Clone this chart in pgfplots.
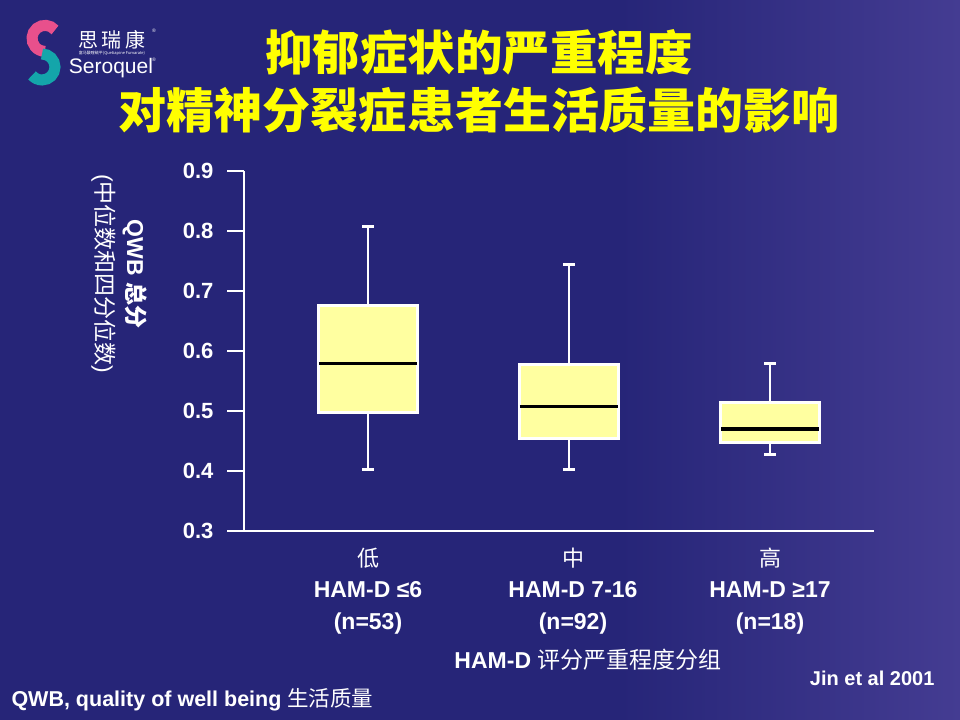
\documentclass[border=0pt]{standalone}
\usepackage{fontspec}
\setmainfont{Liberation Sans}
\newfontfamily\cjk{Noto Sans CJK SC}
\usepackage{pgfplots}
\pgfplotsset{compat=1.18}
\usepgfplotslibrary{statistics}
\definecolor{bgL}{RGB}{38,37,120}
\definecolor{bgR}{RGB}{68,60,146}
\definecolor{boxy}{RGB}{255,255,160}
\definecolor{ttl}{RGB}{255,255,0}
\definecolor{pinkS}{RGB}{232,80,140}
\definecolor{tealS}{RGB}{20,165,170}
\newcommand\fs[1]{\fontsize{#1bp}{#1bp}\selectfont}
\begin{document}
\begin{tikzpicture}[x=1bp,y=1bp]
\fill[bgL] (0,0) rectangle (960,720);
\shade[left color=bgL, right color=bgR] (620,0) rectangle (960,720);
\useasboundingbox (0,0) rectangle (960,720);
% logo
\draw[pinkS, line width=11bp] (55,690) arc[start angle=40, end angle=270, radius=13];
\draw[tealS, line width=11bp] (42,666) arc[start angle=90, end angle=-140, radius=13];
\node[white, font=\cjk\fs{20}] at (112,680) {思\,瑞\,康};
\node[white, font=\fs{5}] at (154,689) {®};
\node[white, font=\cjk\fs{4}] at (112,667) {富马酸喹硫平(Quetiapine Fumarate)};
\node[white, font=\fs{21}] at (111,652) {Seroquel};
\node[white, font=\fs{5}] at (154,660) {®};
% title
\node[text=ttl, font=\cjk\bfseries\fs{47.5}] at (479,668) {抑郁症状的严重程度};
\node[text=ttl, font=\cjk\bfseries\fs{48}] at (479,610) {对精神分裂症患者生活质量的影响};
% y label
\node[white, rotate=-90, align=center, font=\fs{23}] at (119,446)
  {{\bfseries QWB {\cjk\bfseries 总分}}\\[6bp]{\fs{23}(\cjk 中位数和四分位数\rmfamily)}};
\begin{axis}[
  at={(244bp,189bp)}, anchor=south west,
  scale only axis, width=630bp, height=360bp,
  xmin=0.383, xmax=3.517, ymin=0.3, ymax=0.9,
  axis x line=bottom, axis y line=left,
  axis line style={-, white, line width=2.4bp},
  xtick=\empty,
  ytick={0.3,0.4,0.5,0.6,0.7,0.8,0.9},
  major tick length=17bp, tick align=outside,
  tick style={white, line width=2.4bp},
  yticklabel style={text=white, font=\bfseries\fs{22}, xshift=-10bp},
  /pgf/number format/.cd, fixed, fixed zerofill, precision=1, assume math mode=true,
  /pgfplots/.cd,
  boxplot/draw direction=y,
  boxplot/every median/.style={draw=black, line width=3.2bp},
  boxplot/every whisker/.style={draw=white, line width=2.8bp},
]
\addplot[draw=white, line width=3bp, fill=boxy, boxplot prepared={draw position=1,
  lower whisker=0.402, lower quartile=0.498, median=0.579, upper quartile=0.676,
  upper whisker=0.808, box extend=0.49, whisker extend=0.06}] coordinates {};
\addplot[draw=white, line width=3bp, fill=boxy, boxplot prepared={draw position=2,
  lower whisker=0.402, lower quartile=0.454, median=0.508, upper quartile=0.577,
  upper whisker=0.744, box extend=0.49, whisker extend=0.06}] coordinates {};
\addplot[draw=white, line width=3bp, fill=boxy, boxplot prepared={draw position=3,
  lower whisker=0.428, lower quartile=0.447, median=0.470, upper quartile=0.514,
  upper whisker=0.579, box extend=0.49, whisker extend=0.06}] coordinates {};
\end{axis}
% category labels
\node[white, font=\cjk\fs{22}] at (368,162) {低};
\node[white, font=\bfseries\fs{23}] at (368,130) {HAM-D ≤6};
\node[white, font=\bfseries\fs{23}] at (368,96) {(n=53)};
\node[white, font=\cjk\fs{22}] at (573,162) {中};
\node[white, font=\bfseries\fs{23}] at (573,130) {HAM-D 7-16};
\node[white, font=\bfseries\fs{23}] at (573,96) {(n=92)};
\node[white, font=\cjk\fs{22}] at (770,162) {高};
\node[white, font=\bfseries\fs{23}] at (770,130) {HAM-D ≥17};
\node[white, font=\bfseries\fs{23}] at (770,96) {(n=18)};
\node[white, font=\fs{23}] at (588,60) {{\bfseries HAM-D} {\cjk 评分严重程度分组}};
\node[white, anchor=east, font=\bfseries\fs{20}] at (938,42) {Jin et al 2001};
\node[white, anchor=west, font=\bfseries\fs{21.5}] at (8,20) {QWB, quality of well being {\cjk\mdseries 生活质量}};
\end{tikzpicture}
\end{document}
